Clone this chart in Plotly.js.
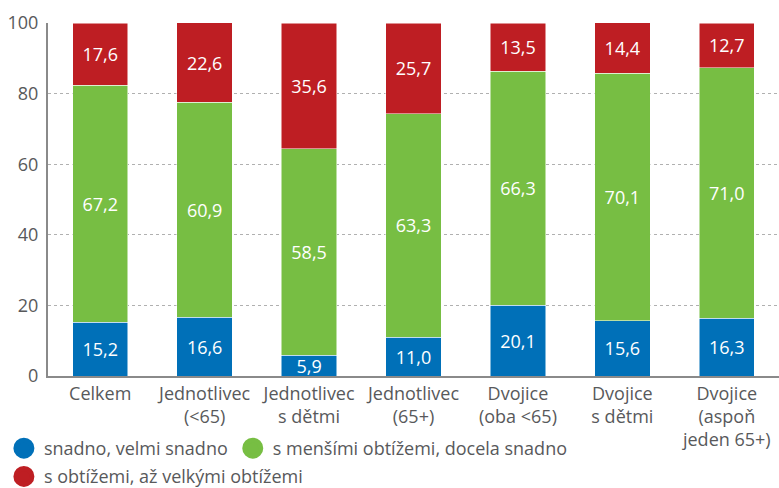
<!DOCTYPE html>
<html>
<head>
<meta charset="utf-8">
<script src="https://cdn.plot.ly/plotly-3.0.1.min.js"></script>
<style>html,body{margin:0;padding:0;background:#fff;}#chart{width:779px;height:488px;}</style>
</head>
<body>
<div id="chart"></div>
<script>
const categories = ["Celkem", "Jednotlivec<br>(<65)", "Jednotlivec<br>s dětmi", "Jednotlivec<br>(65+)", "Dvojice<br>(oba <65)", "Dvojice<br>s dětmi", "Dvojice<br>(aspoň<br>jeden 65+)"];
const seriesNames = ["snadno, velmi snadno", "s menšími obtížemi, docela snadno", "s obtížemi, až velkými obtížemi"];
const easy = [15.2, 16.6, 5.9, 11.0, 20.1, 15.6, 16.3];
const medium = [67.2, 60.9, 58.5, 63.3, 66.3, 70.1, 71.0];
const hard = [17.6, 22.6, 35.6, 25.7, 13.5, 14.4, 12.7];
const colors = ["#0070b8", "#77be43", "#be1e23"];
const yTicks = [0, 20, 40, 60, 80, 100];

const FONT = "Open Sans, Noto Sans, sans-serif";
const GREY = "#58595b";
const seriesValues = [easy, medium, hard];
const legendIds = ["legend", "legend", "legend2"];

const traces = [];
seriesValues.forEach((vals, i) => {
  traces.push({
    type: "bar",
    x: categories,
    y: vals,
    name: seriesNames[i],
    marker: {color: colors[i], line: {color: "#ffffff", width: 0.5}},
    texttemplate: "%{y:.1f}",
    textposition: "inside",
    insidetextanchor: "middle",
    constraintext: "none",
    textfont: {color: "#ffffff", size: 18, family: FONT},
    showlegend: false,
    hoverinfo: "skip"
  });
});
seriesValues.forEach((vals, i) => {
  traces.push({
    type: "scatter",
    mode: "markers",
    x: [null],
    y: [null],
    name: seriesNames[i],
    legend: legendIds[i],
    marker: {color: colors[i], size: 16, symbol: "circle", line: {color: colors[i], width: 5}},
    showlegend: true,
    hoverinfo: "skip"
  });
});

const legendCommon = {
  orientation: "h",
  xref: "container",
  yref: "container",
  x: 0.005,
  xanchor: "left",
  yanchor: "top",
  traceorder: "normal",
  itemwidth: 30,
  font: {size: 18, color: GREY, family: FONT},
  bgcolor: "rgba(0,0,0,0)"
};

const layout = {
  width: 779,
  height: 488,
  margin: {l: 48, r: 0, t: 23, b: 112},
  barmode: "stack",
  bargap: 0.47,
  separators: ", ",
  paper_bgcolor: "#ffffff",
  plot_bgcolor: "#ffffff",
  font: {family: FONT, color: GREY, size: 18},
  xaxis: {
    type: "category",
    showgrid: false,
    showline: true,
    linecolor: "#8a8a8a",
    linewidth: 2,
    ticks: "",
    tickfont: {size: 18, color: GREY, family: FONT},
    automargin: false,
    fixedrange: true
  },
  yaxis: {
    range: [0, 100],
    tickvals: yTicks,
    showgrid: true,
    gridcolor: "#b0b0b0",
    gridwidth: 1,
    griddash: "dot",
    showline: true,
    linecolor: "#8a8a8a",
    linewidth: 2,
    zeroline: false,
    ticks: "",
    ticklabelstandoff: 4,
    tickfont: {size: 18, color: GREY, family: FONT},
    automargin: false,
    fixedrange: true
  },
  legend: Object.assign({}, legendCommon, {y: 0.119}),
  legend2: Object.assign({}, legendCommon, {y: 0.061}),
  showlegend: true
};

Plotly.newPlot("chart", traces, layout, {displayModeBar: false, staticPlot: true});
</script>
</body>
</html>
